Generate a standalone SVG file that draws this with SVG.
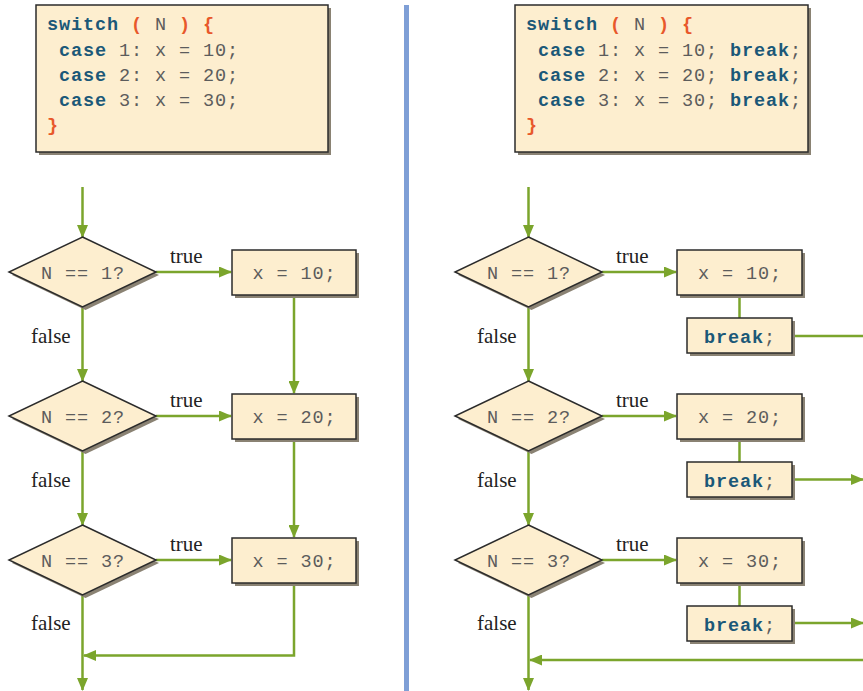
<svg xmlns="http://www.w3.org/2000/svg" width="863" height="691" viewBox="0 0 863 691">
<defs>
<marker id="ah" markerUnits="userSpaceOnUse" markerWidth="13" markerHeight="11" refX="12" refY="5.5" orient="auto">
<path d="M0,0 L13,5.5 L0,11 z" fill="#7ba52c"/>
</marker>
<style>
.shadow{fill:#8a8273;stroke:none}
.box{fill:#fdeecf;stroke:#2b2b2b;stroke-width:1.5}
.code{font-family:"Liberation Mono","Courier New",monospace;font-size:18.5px;letter-spacing:0.9px;fill:#5c5c5c}
.kw{fill:#1b5878;font-weight:bold}
.br{fill:#e8582b;font-weight:bold}
.lbl{font-family:"Liberation Serif","Times New Roman",serif;font-size:21px;fill:#222}
.wire{fill:none;stroke:#7ba52c;stroke-width:2.5}
.arr{marker-end:url(#ah)}
</style>
</defs>
<rect x="0" y="0" width="863" height="691" fill="#ffffff"/>

<!-- divider -->
<line x1="406.5" y1="5" x2="406.5" y2="691" stroke="#7f9fd6" stroke-width="5"/>

<!-- code boxes -->
<g id="code-left">
<rect class="shadow" x="39" y="8" width="292" height="147"/>
<rect class="box" x="36" y="5" width="292" height="147"/>
<text class="code" x="47" y="30"><tspan class="kw">switch</tspan> <tspan class="br">(</tspan> N <tspan class="br">)</tspan> <tspan class="br">{</tspan></text>
<text class="code" x="47" y="56" xml:space="preserve"> <tspan class="kw">case</tspan> 1: x = 10;</text>
<text class="code" x="47" y="81" xml:space="preserve"> <tspan class="kw">case</tspan> 2: x = 20;</text>
<text class="code" x="47" y="106" xml:space="preserve"> <tspan class="kw">case</tspan> 3: x = 30;</text>
<text class="code br" x="47" y="131">}</text>
</g>
<g id="code-right">
<rect class="shadow" x="518" y="8" width="293" height="147"/>
<rect class="box" x="515" y="5" width="293" height="147"/>
<text class="code" x="526" y="30"><tspan class="kw">switch</tspan> <tspan class="br">(</tspan> N <tspan class="br">)</tspan> <tspan class="br">{</tspan></text>
<text class="code" x="526" y="56" xml:space="preserve"> <tspan class="kw">case</tspan> 1: x = 10; <tspan class="kw">break</tspan>;</text>
<text class="code" x="526" y="81" xml:space="preserve"> <tspan class="kw">case</tspan> 2: x = 20; <tspan class="kw">break</tspan>;</text>
<text class="code" x="526" y="106" xml:space="preserve"> <tspan class="kw">case</tspan> 3: x = 30; <tspan class="kw">break</tspan>;</text>
<text class="code br" x="526" y="131">}</text>
</g>

<!-- connectors -->
<g id="connectors">
<!-- left -->
<line class="wire arr" x1="82.5" y1="187" x2="82.5" y2="237"/>
<line class="wire arr" x1="156" y1="272" x2="231" y2="272"/>
<line class="wire arr" x1="156" y1="416" x2="231" y2="416"/>
<line class="wire arr" x1="156" y1="560" x2="231" y2="560"/>
<line class="wire arr" x1="82.5" y1="307" x2="82.5" y2="381"/>
<line class="wire arr" x1="82.5" y1="451" x2="82.5" y2="525"/>
<line class="wire arr" x1="82.5" y1="595" x2="82.5" y2="690"/>
<line class="wire arr" x1="294" y1="295" x2="294" y2="393"/>
<line class="wire arr" x1="294" y1="439" x2="294" y2="537"/>
<polyline class="wire arr" points="294,583 294,655.5 84,655.5"/>
<!-- right -->
<line class="wire arr" x1="528.5" y1="187" x2="528.5" y2="237"/>
<line class="wire arr" x1="602" y1="272" x2="676" y2="272"/>
<line class="wire arr" x1="602" y1="416" x2="676" y2="416"/>
<line class="wire arr" x1="602" y1="560" x2="676" y2="560"/>
<line class="wire arr" x1="528.5" y1="307" x2="528.5" y2="381"/>
<line class="wire arr" x1="528.5" y1="451" x2="528.5" y2="525"/>
<line class="wire arr" x1="528.5" y1="595" x2="528.5" y2="690"/>
<line class="wire" x1="739.5" y1="295" x2="739.5" y2="318"/>
<line class="wire" x1="739.5" y1="439" x2="739.5" y2="462"/>
<line class="wire" x1="739.5" y1="583" x2="739.5" y2="606"/>
<line class="wire" x1="792" y1="336" x2="863" y2="336"/>
<line class="wire arr" x1="792" y1="479.5" x2="863" y2="479.5"/>
<line class="wire arr" x1="792" y1="623" x2="863" y2="623"/>
<line class="wire arr" x1="863" y1="660" x2="530" y2="660"/>
</g>

<!-- left nodes -->
<g id="L-d1">
<polygon class="shadow" points="85.5,240 159,275 85.5,310 12,275"/>
<polygon class="box" points="82.5,237 156,272 82.5,307 9,272"/>
<text class="code" x="83" y="279" text-anchor="middle">N == 1?</text>
</g>
<g id="L-d2">
<polygon class="shadow" points="85.5,384 159,419 85.5,454 12,419"/>
<polygon class="box" points="82.5,381 156,416 82.5,451 9,416"/>
<text class="code" x="83" y="423" text-anchor="middle">N == 2?</text>
</g>
<g id="L-d3">
<polygon class="shadow" points="85.5,528 159,563 85.5,598 12,563"/>
<polygon class="box" points="82.5,525 156,560 82.5,595 9,560"/>
<text class="code" x="83" y="567" text-anchor="middle">N == 3?</text>
</g>
<g id="L-b1">
<rect class="shadow" x="235" y="253" width="124" height="45"/>
<rect class="box" x="232" y="250" width="124" height="45"/>
<text class="code" x="294.5" y="279" text-anchor="middle">x = 10;</text>
</g>
<g id="L-b2">
<rect class="shadow" x="235" y="397" width="124" height="45"/>
<rect class="box" x="232" y="394" width="124" height="45"/>
<text class="code" x="294.5" y="423" text-anchor="middle">x = 20;</text>
</g>
<g id="L-b3">
<rect class="shadow" x="235" y="541" width="124" height="45"/>
<rect class="box" x="232" y="538" width="124" height="45"/>
<text class="code" x="294.5" y="567" text-anchor="middle">x = 30;</text>
</g>
<g id="L-labels">
<text class="lbl" x="170" y="263">true</text>
<text class="lbl" x="170" y="407">true</text>
<text class="lbl" x="170" y="551">true</text>
<text class="lbl" x="31" y="343">false</text>
<text class="lbl" x="31" y="487">false</text>
<text class="lbl" x="31" y="630">false</text>
</g>

<!-- right nodes -->
<g id="R-d1">
<polygon class="shadow" points="531.5,240 605,275 531.5,310 458,275"/>
<polygon class="box" points="528.5,237 602,272 528.5,307 455,272"/>
<text class="code" x="529" y="279" text-anchor="middle">N == 1?</text>
</g>
<g id="R-d2">
<polygon class="shadow" points="531.5,384 605,419 531.5,454 458,419"/>
<polygon class="box" points="528.5,381 602,416 528.5,451 455,416"/>
<text class="code" x="529" y="423" text-anchor="middle">N == 2?</text>
</g>
<g id="R-d3">
<polygon class="shadow" points="531.5,528 605,563 531.5,598 458,563"/>
<polygon class="box" points="528.5,525 602,560 528.5,595 455,560"/>
<text class="code" x="529" y="567" text-anchor="middle">N == 3?</text>
</g>
<g id="R-b1">
<rect class="shadow" x="680" y="253" width="125" height="45"/>
<rect class="box" x="677" y="250" width="125" height="45"/>
<text class="code" x="740" y="279" text-anchor="middle">x = 10;</text>
</g>
<g id="R-b2">
<rect class="shadow" x="680" y="397" width="125" height="45"/>
<rect class="box" x="677" y="394" width="125" height="45"/>
<text class="code" x="740" y="423" text-anchor="middle">x = 20;</text>
</g>
<g id="R-b3">
<rect class="shadow" x="680" y="541" width="125" height="45"/>
<rect class="box" x="677" y="538" width="125" height="45"/>
<text class="code" x="740" y="567" text-anchor="middle">x = 30;</text>
</g>
<g id="R-k1">
<rect class="shadow" x="690" y="321" width="105" height="35"/>
<rect class="box" x="687" y="318" width="105" height="35"/>
<text class="code" x="740" y="343" text-anchor="middle" fill="#333"><tspan class="kw">break</tspan>;</text>
</g>
<g id="R-k2">
<rect class="shadow" x="690" y="465" width="105" height="35"/>
<rect class="box" x="687" y="462" width="105" height="35"/>
<text class="code" x="740" y="487" text-anchor="middle" fill="#333"><tspan class="kw">break</tspan>;</text>
</g>
<g id="R-k3">
<rect class="shadow" x="690" y="609" width="105" height="35"/>
<rect class="box" x="687" y="606" width="105" height="35"/>
<text class="code" x="740" y="631" text-anchor="middle" fill="#333"><tspan class="kw">break</tspan>;</text>
</g>
<g id="R-labels">
<text class="lbl" x="616" y="263">true</text>
<text class="lbl" x="616" y="407">true</text>
<text class="lbl" x="616" y="551">true</text>
<text class="lbl" x="477" y="343">false</text>
<text class="lbl" x="477" y="487">false</text>
<text class="lbl" x="477" y="630">false</text>
</g>
</svg>
